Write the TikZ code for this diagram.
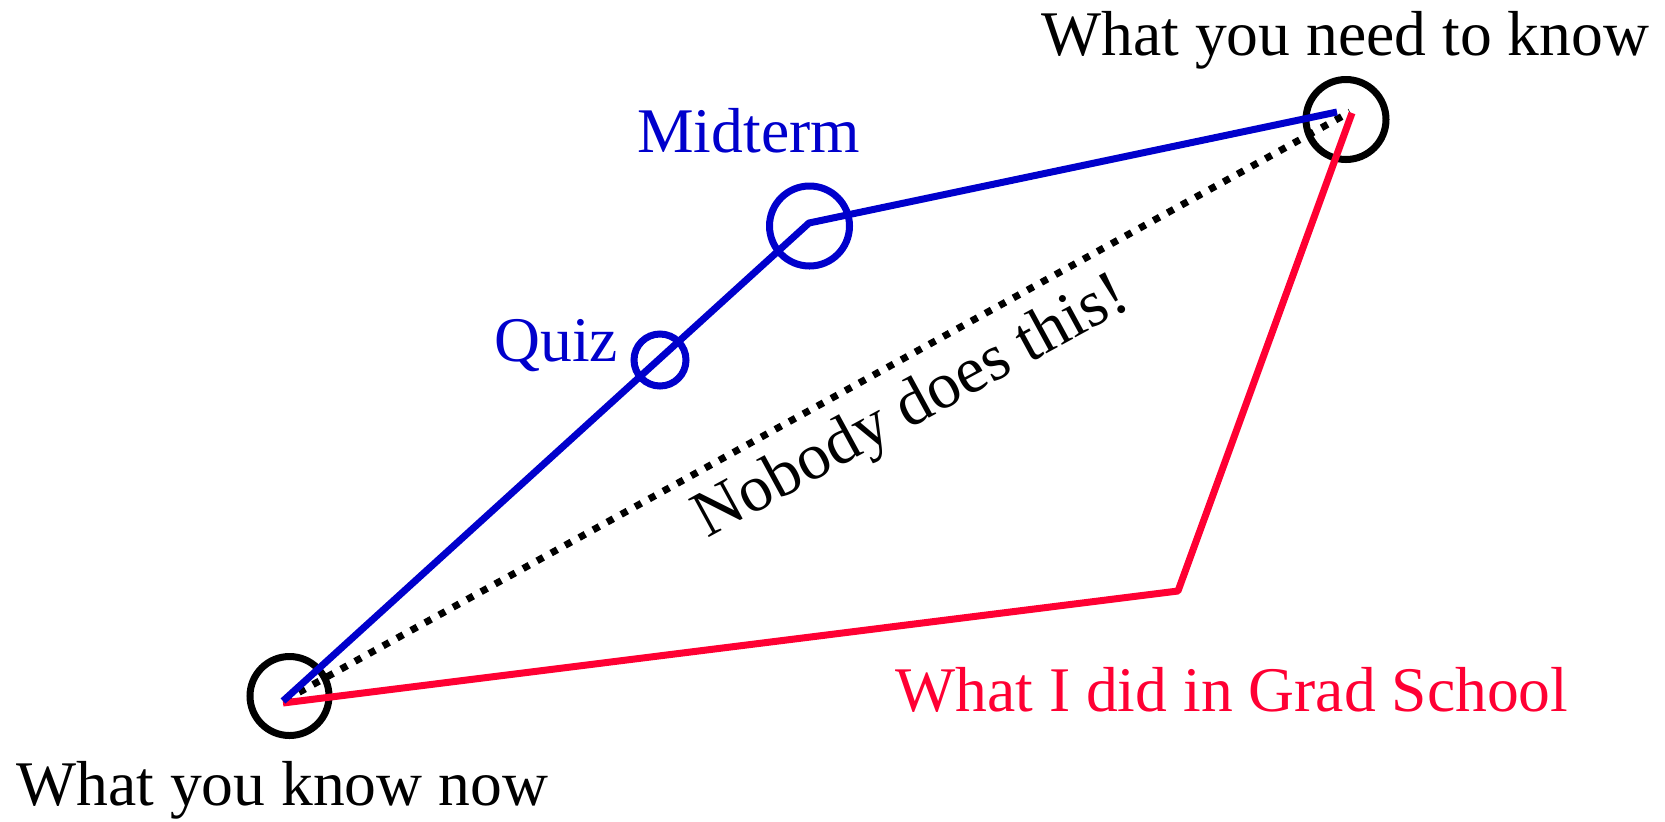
\documentclass[tikz,border=0pt]{standalone}
\usepackage{fontspec}
\setmainfont{Liberation Serif}
\definecolor{myblue}{RGB}{0,0,204}
\definecolor{myred}{RGB}{255,0,51}
\begin{document}
\begin{tikzpicture}[x=0.5pt,y=-0.5pt,
  ring/.style={circle,draw=black,line width=3.5pt,inner sep=0pt,minimum size=#1},
  bluering/.style={ring=#1,draw=myblue},
  bline/.style={draw=myblue,line width=3.5pt,line join=bevel},
  rline/.style={draw=myred,line width=3.5pt,line join=bevel},
  dline/.style={draw=black,line width=3.5pt,dash pattern=on 3.5pt off 4.5pt},
  lbl/.style={inner sep=0pt,anchor=base west,font=\fontsize{31.8}{36}\selectfont}]
\useasboundingbox (0,0) rectangle (1665,821);
% circles
\node[ring=39.5pt] (cs) at (289.5,696) {};
\node[ring=40pt] (ce) at (1346,119.5) {};
\node[bluering=40pt] (cm) at (809.5,226) {};
\node[bluering=26pt] (cq) at (660,360) {};
% path points
\coordinate (s) at (283,701);
\coordinate (sr) at (283,703);
\coordinate (sd) at (285,700);
\coordinate (m) at (809,223);
\coordinate (eb) at (1337,112);
\coordinate (g) at (1178,591);
\coordinate (er) at (1352,113);
\coordinate (ed) at (1350,112);
% connectors
\draw[dline] (sd) -- (ed);
\draw[rline] (sr) -- (g) -- (er);
\draw[bline] (s) -- (m) -- (eb);
% labels
\node[lbl] (tnow) at (16,805) {What you know now};
\node[lbl] (tneed) at (1041,55) {What you need to know};
\node[lbl,text=myblue] (tmid) at (637,152) {Midterm};
\node[lbl,text=myblue] (tquiz) at (494,361) {Quiz};
\node[lbl,text=myred] (tgrad) at (895,711) {What I did in Grad School};
\node[inner sep=0pt,anchor=base,rotate=28.6,font=\fontsize{33}{38}\selectfont] (tnob) at (920,423) {Nobody does this!};
\end{tikzpicture}
\end{document}
